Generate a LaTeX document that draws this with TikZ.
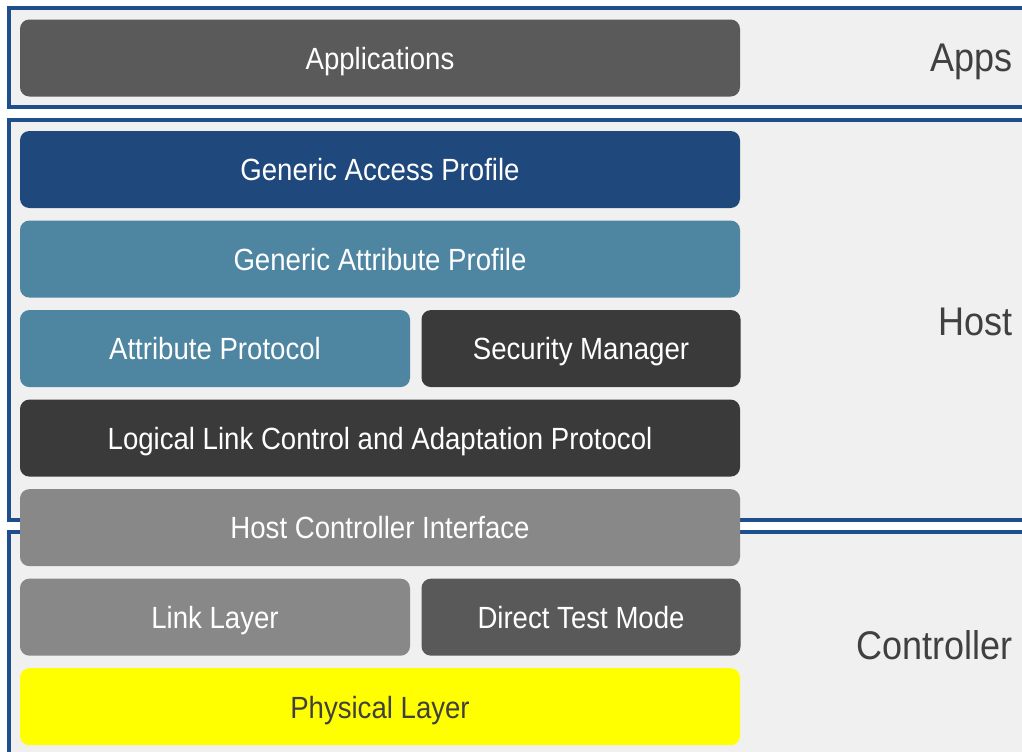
\documentclass[tikz,border=0pt]{standalone}
\usepackage{fontspec}
\setmainfont{Liberation Sans}[FakeStretch=0.9]
\usetikzlibrary{positioning}
\definecolor{framefill}{HTML}{F0F0F0}
\definecolor{frameline}{HTML}{1F4E8C}
\definecolor{appgray}{HTML}{5A5A5A}
\definecolor{gapblue}{HTML}{1F497D}
\definecolor{attblue}{HTML}{4E86A2}
\definecolor{darkbox}{HTML}{3A3A3A}
\definecolor{midgray}{HTML}{888888}
\definecolor{dtmgray}{HTML}{595959}
\definecolor{phyyellow}{RGB}{255,255,0}
\definecolor{labeltext}{HTML}{404040}
\tikzstyle{layer} = [rectangle, rounded corners=7pt, minimum width=540pt, minimum height=57.75pt, text centered, inner sep=0pt, text height=19pt, text depth=2pt, text=white, font=\fontsize{23}{26}\selectfont]
\tikzstyle{halfleft} = [layer, minimum width=292.5pt]
\tikzstyle{halfright} = [layer, minimum width=239.25pt]
\tikzstyle{frame} = [fill=framefill, draw=frameline, line width=2.4pt]
\tikzstyle{tag} = [anchor=east, inner sep=0pt, text=labeltext, font=\fontsize{30}{33}\selectfont]

\begin{document}
\begin{tikzpicture}[x=0.75pt, y=-0.75pt]
\fill[white] (0,0) rectangle (1022,751);
\clip (0,0) rectangle (1022,751);

% frames
\draw[frame] (9,8) rectangle (1040,107);
\draw[frame] (9,120) rectangle (1040,520);
\draw[frame] (9,532) rectangle (1040,770);

% stack
\node (apps) [layer, fill=appgray] at (380,58) {Applications};
\node (gap) [layer, fill=gapblue] at (380,169.5) {Generic Access Profile};
\node (gatt) [layer, fill=attblue, below=9pt of gap] {Generic Attribute Profile};
\node (att) [halfleft, fill=attblue, below=9pt of gatt.south west, anchor=north west] {Attribute Protocol};
\node (sm) [halfright, fill=darkbox, right=8.25pt of att] {Security Manager};
\node (l2cap) [layer, fill=darkbox, below=9pt of att.south west, anchor=north west] {Logical Link Control and Adaptation Protocol};
\node (hci) [layer, fill=midgray, below=9pt of l2cap] {Host Controller Interface};
\node (ll) [halfleft, fill=midgray, below=9pt of hci.south west, anchor=north west] {Link Layer};
\node (dtm) [halfright, fill=dtmgray, right=8.25pt of ll] {Direct Test Mode};
\node (phy) [layer, fill=phyyellow, text=labeltext, below=9pt of ll.south west, anchor=north west] {Physical Layer};

% layer names
\node (appstag) [tag] at (1013,62) {Apps};
\node (hosttag) [tag] at (1013,322) {Host};
\node (ctrltag) [tag] at (1013,645) {Controller};
\end{tikzpicture}
\end{document}
